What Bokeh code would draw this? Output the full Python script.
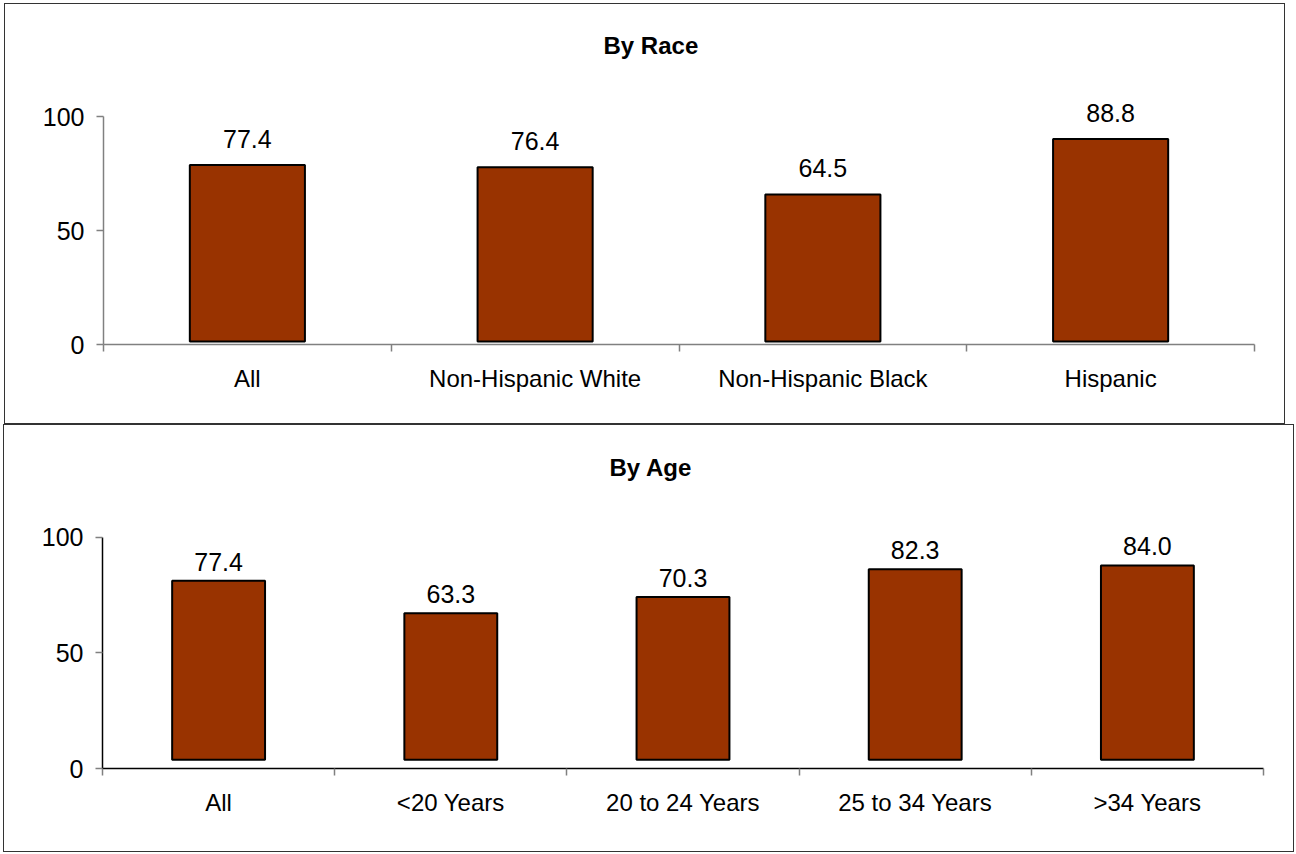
from bokeh.plotting import figure
from bokeh.models import Range1d, FixedTicker, ColumnDataSource
from bokeh.layouts import column
from bokeh.embed import file_html
from bokeh.resources import INLINE

# ---- data ----
race_title = "By Race"
race_cats = ["All", "Non-Hispanic White", "Non-Hispanic Black", "Hispanic"]
race_vals = [77.4, 76.4, 64.5, 88.8]

age_title = "By Age"
age_cats = ["All", "<20 Years", "20 to 24 Years", "25 to 34 Years", ">34 Years"]
age_vals = [77.4, 63.3, 70.3, 82.3, 84.0]

y_ticks = [0, 50, 100]

FONT = "Liberation Sans"
BAR_COLOR = "#993300"


def make_panel(title, cats, vals, width, height, left, right, top, bottom,
               ymax, base, label_dy, axis_color, title_offset, margin):
    n = len(cats)
    centers = [i + 0.5 for i in range(n)]
    bounds = list(range(n + 1))
    src = ColumnDataSource(dict(
        x=centers,
        top=[v + base for v in vals],
        label=["%.1f" % v for v in vals],
    ))
    p = figure(width=width, height=height, output_backend="svg",
               toolbar_location=None, x_range=Range1d(0, n),
               y_range=Range1d(0, ymax),
               min_border_left=left, min_border_right=right,
               min_border_top=top, min_border_bottom=bottom,
               background_fill_color="white", border_fill_color="white",
               margin=margin,
               styles={"border": "1px solid #333333"})
    p.outline_line_color = None
    p.xgrid.visible = False
    p.ygrid.visible = False

    p.vbar(x="x", top="top", bottom=base, width=0.4, source=src,
           fill_color=BAR_COLOR, line_color="black", line_width=2)
    p.text(x="x", y="top", text="label", source=src, text_align="center",
           text_baseline="alphabetic", y_offset=label_dy,
           text_font={"value": FONT}, text_font_size={"value": "25px"},
           text_color="black")

    xa = p.xaxis[0]
    xa.ticker = FixedTicker(ticks=centers, minor_ticks=bounds)
    xa.major_label_overrides = {c: name for c, name in zip(centers, cats)}
    xa.major_tick_out = 0
    xa.major_tick_in = 0
    xa.minor_tick_out = 7
    xa.minor_tick_in = 0
    xa.minor_tick_line_color = "#808080"
    xa.minor_tick_line_width = 1.5
    xa.axis_line_color = axis_color
    xa.axis_line_width = 1.5
    xa.major_label_standoff = 13
    xa.major_label_text_font = FONT
    xa.major_label_text_font_size = "24px"
    xa.major_label_text_color = "black"

    ya = p.yaxis[0]
    ya.ticker = FixedTicker(ticks=y_ticks)
    ya.bounds = (0, 100)
    ya.major_tick_out = 7
    ya.major_tick_in = 0
    ya.minor_tick_out = 0
    ya.minor_tick_in = 0
    ya.major_tick_line_color = "#808080"
    ya.major_tick_line_width = 1.5
    ya.axis_line_color = axis_color
    ya.axis_line_width = 1.5
    ya.major_label_standoff = 12
    ya.major_label_text_font = FONT
    ya.major_label_text_font_size = "25px"
    ya.major_label_text_color = "black"

    p.title.text = title
    p.title.align = "left"
    p.title.text_font = FONT
    p.title.text_font_size = "24px"
    p.title.text_font_style = "bold"
    p.title.text_color = "black"
    p.title.offset = title_offset
    return p


top_panel = make_panel(race_title, race_cats, race_vals, 1281, 421,
                       left=98, right=22, top=59, bottom=81,
                       ymax=123.25, base=1.3, label_dy=-26,
                       axis_color="#808080", title_offset=500,
                       margin=(3, 0, 0, 4))
bottom_panel = make_panel(age_title, age_cats, age_vals, 1291, 428,
                          left=97, right=32, top=60, bottom=85,
                          ymax=122.35, base=3.8, label_dy=-19,
                          axis_color="black", title_offset=507,
                          margin=(0, 0, 0, 3))

layout = column(top_panel, bottom_panel, spacing=0)
open("out.html", "w").write(file_html(layout, INLINE))
